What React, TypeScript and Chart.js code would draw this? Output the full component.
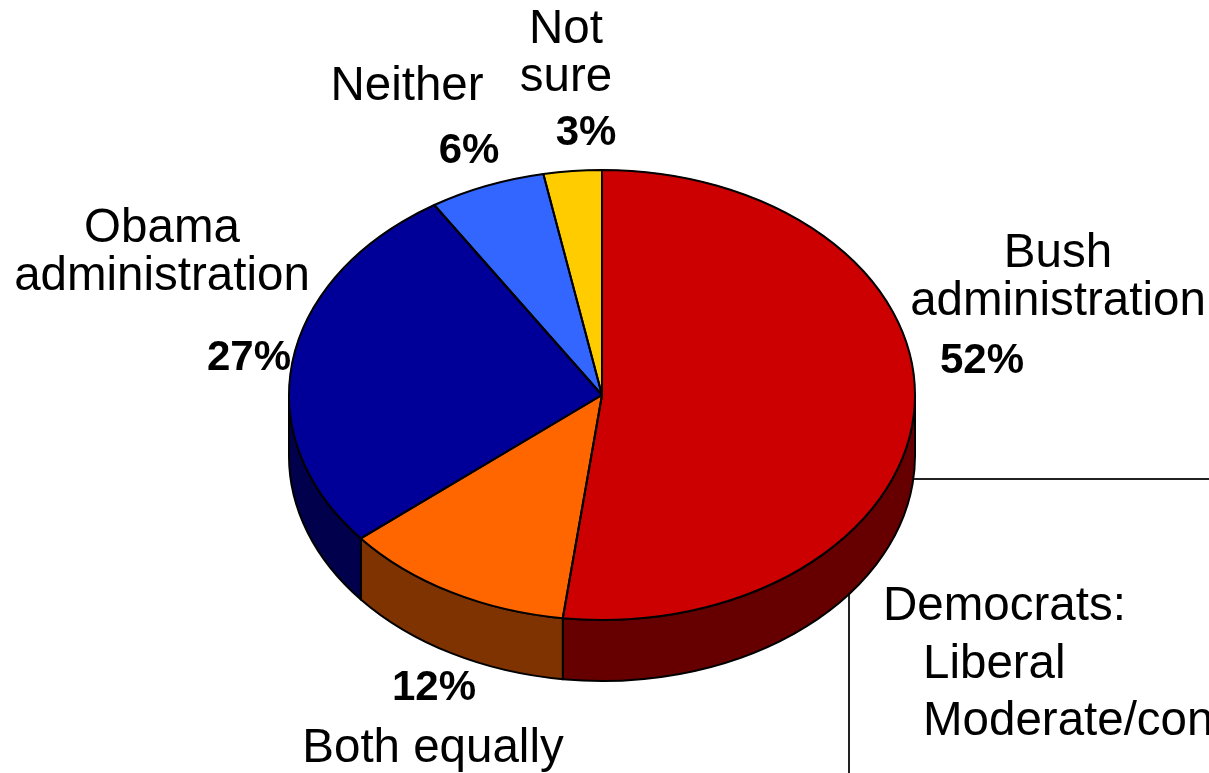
import React, { useEffect, useRef } from "react";
import { Chart, registerables } from "chart.js";

Chart.register(...registerables);

// ---- data ----
const categories = ["Bush administration", "Both equally", "Obama administration", "Neither", "Not sure"];
const nameLines = [["Bush", "administration"], ["Both equally"], ["Obama", "administration"], ["Neither"], ["Not", "sure"]];
const values = [52, 12, 27, 6, 3];
const topColors = ["#CC0000", "#FF6600", "#000099", "#3366FF", "#FFCC00"];
const sideColors = ["#660000", "#7F3300", "#00004D", "#1A3380", "#806600"];
const boxLines = ["Democrats:", "Liberal", "Moderate/conservative"];

// ---- layout (label anchors) ----
const nameAnchors = [
  [1058, 267],
  [433, 762],
  [162, 242],
  [407, 100],
  [566, 43],
];
const pctAnchors = [
  [982, 373],
  [434, 700],
  [249, 370],
  [469, 163],
  [586, 145],
];

const W = 1209;
const H = 773;
const CX = 602;
const CY = 395;
const RX = 313;
const RY = 225;
const DEPTH = 61;
const K = RY / RX;
const FONT = '"Liberation Sans", Arial, sans-serif';
const LINE_W = 2;

const pie3d = {
  id: "pie3d",
  beforeDatasetsDraw(chart: any) {
    const ctx = chart.ctx as CanvasRenderingContext2D;
    // background text box lines (behind pie)
    ctx.save();
    ctx.strokeStyle = "#222";
    ctx.lineWidth = 2;
    ctx.beginPath();
    ctx.moveTo(849, 479);
    ctx.lineTo(W, 479);
    ctx.moveTo(849, 479);
    ctx.lineTo(849, H);
    ctx.stroke();
    ctx.restore();

    // sides
    const meta = chart.getDatasetMeta(0);
    ctx.save();
    meta.data.forEach((arc: any, i: number) => {
      const { x, y, startAngle, endAngle, outerRadius } = arc.getProps(["x", "y", "startAngle", "endAngle", "outerRadius"], true);
      const ry = outerRadius * K;
      const s = Math.max(startAngle, 0);
      const e = Math.min(endAngle, Math.PI);
      if (e <= s) return;
      ctx.beginPath();
      ctx.ellipse(x, y, outerRadius, ry, 0, s, e, false);
      ctx.lineTo(x + outerRadius * Math.cos(e), y + ry * Math.sin(e) + DEPTH);
      ctx.ellipse(x, y + DEPTH, outerRadius, ry, 0, e, s, true);
      ctx.closePath();
      ctx.fillStyle = sideColors[i];
      ctx.fill();
      ctx.lineWidth = LINE_W;
      ctx.strokeStyle = "#000";
      ctx.lineJoin = "round";
      ctx.stroke();
    });
    ctx.restore();

    // squash top face into an ellipse
    ctx.save();
    ctx.translate(CX, CY);
    ctx.scale(1, K);
    ctx.translate(-CX, -CY);
  },
  afterDatasetsDraw(chart: any) {
    const ctx = chart.ctx as CanvasRenderingContext2D;
    ctx.restore();

    // outlines of the top face (unscaled stroke width)
    const meta = chart.getDatasetMeta(0);
    ctx.save();
    ctx.strokeStyle = "#000";
    ctx.lineWidth = LINE_W;
    ctx.lineJoin = "round";
    meta.data.forEach((arc: any) => {
      const { x, y, startAngle, endAngle, outerRadius } = arc.getProps(["x", "y", "startAngle", "endAngle", "outerRadius"], true);
      const ry = outerRadius * K;
      ctx.beginPath();
      ctx.moveTo(x, y);
      ctx.ellipse(x, y, outerRadius, ry, 0, startAngle, endAngle, false);
      ctx.closePath();
      ctx.stroke();
    });
    ctx.restore();

    ctx.save();
    ctx.fillStyle = "#000";
    ctx.textAlign = "center";
    ctx.textBaseline = "alphabetic";
    nameLines.forEach((lines, i) => {
      ctx.font = `47.5px ${FONT}`;
      lines.forEach((ln, j) => {
        ctx.fillText(ln, nameAnchors[i][0], nameAnchors[i][1] + j * 48);
      });
      ctx.font = `bold 42px ${FONT}`;
      ctx.fillText(`${values[i]}%`, pctAnchors[i][0], pctAnchors[i][1]);
    });
    ctx.textAlign = "left";
    ctx.font = `47.5px ${FONT}`;
    ctx.fillText(boxLines[0], 883, 620);
    ctx.fillText(boxLines[1], 923, 678);
    ctx.fillText(boxLines[2], 923, 735);
    ctx.restore();
  },
};

export default function App() {
  const ref = useRef<HTMLCanvasElement | null>(null);
  useEffect(() => {
    document.body.style.margin = "0";
    const canvas = ref.current!;
    const chart = new Chart(canvas, {
      type: "pie",
      data: {
        labels: categories,
        datasets: [
          {
            data: values,
            backgroundColor: topColors,
            borderColor: topColors,
            borderWidth: 1,
            radius: RX,
            offset: 0,
            hoverOffset: 0,
            clip: false as any,
          } as any,
        ],
      },
      options: {
        responsive: false,
        animation: false,
        events: [],
        layout: {
          padding: { left: CX - RX, right: W - (CX + RX), top: CY - RX, bottom: H - (CY + RX) },
        },
        plugins: {
          legend: { display: false },
          tooltip: { enabled: false },
        },
      },
      plugins: [pie3d],
    });
    return () => chart.destroy();
  }, []);
  return (
    <div style={{ position: "fixed", left: 0, top: 0, width: W, height: H, background: "#fff" }}>
      <canvas ref={ref} width={W} height={H} style={{ width: W, height: H, display: "block" }} />
    </div>
  );
}
